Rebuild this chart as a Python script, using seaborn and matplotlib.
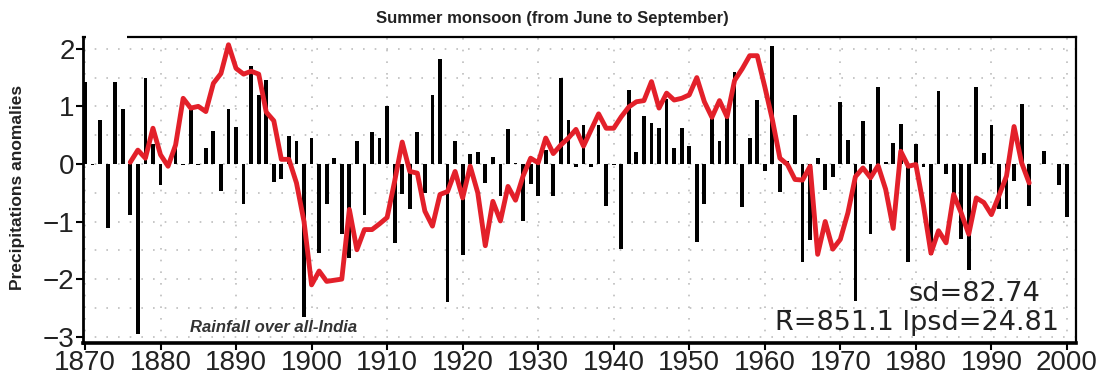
import matplotlib
matplotlib.use("Agg")
import matplotlib.pyplot as plt
import numpy as np
import pandas as pd
import seaborn as sns
from matplotlib.ticker import MultipleLocator
from matplotlib.patches import Rectangle

# Yearly all-India summer (JJAS) rainfall anomalies, standardised
years = list(range(1870, 2001))
anomalies = [
    1.43, -0.02, 0.76, -1.12, 1.42, 0.95, -0.88, -2.95, 1.50, 0.35,   # 1870s
    -0.36, 0.05, 0.40, -0.01, 0.94, -0.02, 0.28, 0.58, -0.47, 0.96,   # 1880s
    0.65, -0.69, 1.70, 1.20, 1.45, -0.32, -0.26, 0.48, 0.39, -2.66,   # 1890s
    0.45, -1.54, -0.69, 0.10, -1.21, -1.63, 0.40, -0.88, 0.55, 0.45,  # 1900s
    1.00, -1.37, -0.53, -0.79, 0.55, -0.50, 1.19, 1.83, -2.40, 0.39,  # 1910s
    -1.59, 0.17, 0.20, -0.33, 0.12, -0.56, 0.61, 0.01, -0.99, -0.34,  # 1920s
    -0.56, 0.25, -0.56, 1.49, 0.76, -0.05, 0.68, -0.05, 0.68, -0.73,  # 1930s
    -0.01, -1.48, 1.29, 0.21, 0.84, 0.71, 0.63, 1.13, 0.28, 0.63,     # 1940s
    0.31, -1.35, -0.69, 0.81, 0.40, 0.90, 1.59, -0.75, 0.45, 1.11,    # 1950s
    -0.12, 2.05, -0.48, 0.05, 0.85, -1.70, -1.32, 0.10, -0.45, -0.22, # 1960s
    1.07, 0.42, -2.38, 0.74, -1.22, 1.33, 0.03, 0.37, 0.69, -1.71,    # 1970s
    0.35, -0.05, -1.59, 1.26, -0.17, -0.60, -1.30, -1.84, 1.33, 0.19, # 1980s
    0.68, -0.79, -0.79, -0.30, 1.04, -0.73, 0.00, 0.22, 0.00, -0.36,  # 1990s
    -0.93,                                                            # 2000
]

# Low-frequency component of the same series
smooth_years = list(range(1876, 1996))
smooth = [
    0.03, 0.24, 0.10, 0.62,                                            # 1876-79
    0.16, -0.04, 0.33, 1.14, 0.97, 1.00, 0.91, 1.40, 1.57, 2.07,       # 1880s
    1.66, 1.56, 1.61, 1.56, 0.90, 0.75, 0.08, 0.08, -0.33, -1.00,      # 1890s
    -2.10, -1.86, -2.04, -2.02, -2.00, -0.79, -1.49, -1.14, -1.14, -1.04,  # 1900s
    -0.93, -0.30, 0.38, -0.13, -0.16, -0.82, -1.08, -0.53, -0.48, -0.13,   # 1910s
    -0.59, -0.04, -0.50, -1.42, -0.65, -0.99, -0.39, -0.63, -0.21, 0.10,   # 1920s
    0.02, 0.45, 0.18, 0.33, 0.45, 0.60, 0.31, 0.59, 0.87, 0.62,        # 1930s
    0.62, 0.82, 0.99, 1.08, 1.10, 1.43, 0.97, 1.23, 1.11, 1.14,        # 1940s
    1.20, 1.50, 1.08, 0.81, 1.10, 0.82, 1.45, 1.65, 1.88, 1.88,        # 1950s
    1.34, 0.77, 0.10, -0.01, -0.27, -0.28, -0.04, -1.57, -1.00, -1.48, # 1960s
    -1.31, -0.85, -0.22, -0.07, -0.24, -0.03, -0.44, -1.12, 0.22, -0.04,   # 1970s
    -0.01, -0.72, -1.55, -1.16, -1.37, -0.53, -0.85, -1.22, -0.59, -0.67,  # 1980s
    -0.88, -0.55, -0.21, 0.65, 0.02, -0.33,                            # 1990-95
]

title = "Summer monsoon (from June to September)"
ylabel = "Precipitations anomalies"
region = "Rainfall over all-India"
sd_text = "sd=82.74"
mean_text = "R\u0304=851.1 lpsd=24.81"
x_ticks = list(range(1870, 2001, 10))
y_ticks = [-3, -2, -1, 0, 1, 2]

sns.set_style("ticks")
plt.rcParams["font.family"] = ["Liberation Sans", "DejaVu Sans"]
plt.rcParams["axes.unicode_minus"] = True

W, H = 1102, 381
fig = plt.figure(figsize=(W / 100, H / 100), dpi=100)
ax = fig.add_axes([83 / W, 1 - 343 / H, (1076 - 83) / W, (343 - 36.7) / H])

bars = pd.DataFrame({"year": years, "anomaly": anomalies})
sns.barplot(data=bars, x="year", y="anomaly", native_scale=True, width=0.5,
            color="black", saturation=1, errorbar=None, edgecolor="black",
            linewidth=0, ax=ax, zorder=2)

line = pd.DataFrame({"year": smooth_years, "value": smooth})
sns.lineplot(data=line, x="year", y="value", color="#e3202a", linewidth=3.5,
             ax=ax, zorder=3)

ax.set_xlim(1869.74, 2001.2)
ax.set_ylim(-3.11, 2.21)
ax.set_xticks(x_ticks)
ax.set_yticks(y_ticks)
ax.yaxis.set_minor_locator(MultipleLocator(0.5))
ax.set_xlabel("")
ax.set_ylabel("")

# dotted background grid
ax.set_axisbelow(True)
grid_kw = dict(color="#bdbdbd", linestyle=(0, (1, 6)), linewidth=1.2)
ax.grid(True, which="major", axis="both", **grid_kw)
ax.grid(True, which="minor", axis="y", **grid_kw)

ax.tick_params(axis="both", which="major", direction="out", length=5,
               width=1.5, color="black", labelsize=20, pad=1)
ax.tick_params(axis="x", which="major", pad=0)
ax.tick_params(axis="y", which="minor", length=0)
for lab in ax.get_xticklabels() + ax.get_yticklabels():
    lab.set_color("#222222")

for side, lw in [("left", 2.0), ("bottom", 2.6), ("top", 1.6), ("right", 1.6)]:
    ax.spines[side].set_visible(True)
    ax.spines[side].set_linewidth(lw)
    ax.spines[side].set_color("black")

# break in the upper frame at the top-left corner
fig.add_artist(Rectangle((86 / W, 1 - 41 / H), 41 / W, 10 / H,
                         transform=fig.transFigure, facecolor="white",
                         edgecolor="none", zorder=10))

fig.text(552 / W, 1 - 18 / H, title, ha="center", va="center",
         fontsize=12, fontweight="bold", color="#222222")
fig.text(18 / W, 1 - 187 / H, ylabel, ha="center", va="center",
         rotation=90, fontsize=12.5, fontweight="bold", color="#222222")

fig.text(190 / W, 1 - 327 / H, region, ha="left", va="center",
         fontsize=12, fontweight="bold", fontstyle="italic", color="#333333")
fig.text(908 / W, 1 - 294 / H, sd_text, ha="left", va="center",
         fontsize=19.5, family="DejaVu Sans", color="#222222")
fig.text(775 / W, 1 - 323 / H, mean_text, ha="left", va="center",
         fontsize=19.5, family="DejaVu Sans", color="#222222")

fig.savefig("out.png", dpi=100, facecolor="white")
